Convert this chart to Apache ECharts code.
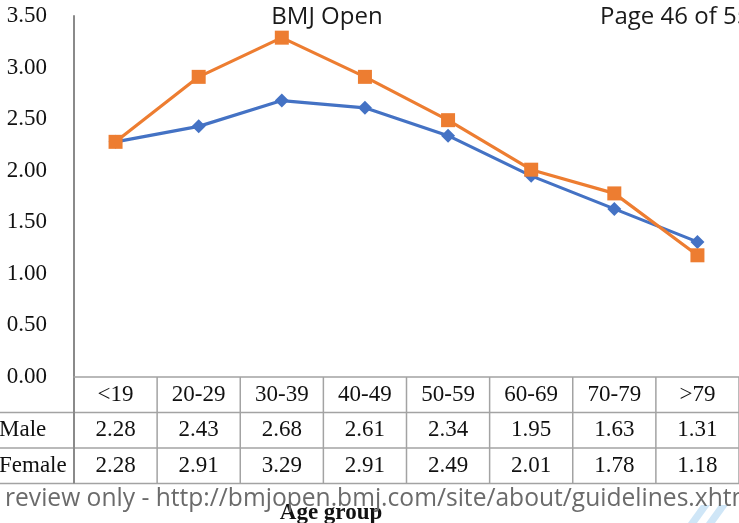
<!DOCTYPE html>
<html>
<head>
<meta charset="utf-8">
<script src="https://cdn.jsdelivr.net/npm/echarts@6/dist/echarts.min.js"></script>
<style>
  html, body { margin: 0; padding: 0; background: #fff; }
  #chart { width: 739px; height: 523px; }
</style>
</head>
<body>
<div id="chart"></div>
<script>
// Age groups and mean values per sex
var categories = ['<19', '20-29', '30-39', '40-49', '50-59', '60-69', '70-79', '>79'];
var maleValues = [2.28, 2.43, 2.68, 2.61, 2.34, 1.95, 1.63, 1.31];
var femaleValues = [2.28, 2.91, 3.29, 2.91, 2.49, 2.01, 1.78, 1.18];
var seriesNames = ['Male', 'Female'];
var yMin = 0, yMax = 3.5, yStep = 0.5;

var SERIF = '"Liberation Serif", "Times New Roman", serif';
var SANS = '"Open Sans", "Noto Sans", sans-serif';
var GRID_LINE = '#a3a3a3';
var ROW_H = 35.5;

var chart = echarts.init(document.getElementById('chart'), null, { renderer: 'canvas' });

chart.setOption({
  animation: false,
  backgroundColor: '#fff',
  grid: { left: 74, right: -1, top: 16, bottom: 146, containLabel: false },
  xAxis: {
    type: 'category',
    data: categories,
    boundaryGap: true,
    axisLine: { show: true, lineStyle: { color: GRID_LINE, width: 1.5 } },
    axisTick: { show: false },
    axisLabel: {
      interval: 0,
      margin: 0,
      verticalAlign: 'top',
      lineHeight: ROW_H,
      fontFamily: SERIF,
      fontSize: 23,
      color: '#111',
      // one table column: category, then male and female values
      formatter: function (v, i) {
        return v + '\n' + maleValues[i].toFixed(2) + '\n' + femaleValues[i].toFixed(2);
      }
    },
    splitLine: { show: false }
  },
  yAxis: {
    type: 'value',
    min: yMin,
    max: yMax,
    interval: yStep,
    axisLine: { show: true, lineStyle: { color: '#8a8a8a', width: 2 } },
    axisTick: { show: false },
    splitLine: { show: false },
    axisLabel: {
      margin: 27,
      fontFamily: SERIF,
      fontSize: 23,
      color: '#111',
      formatter: function (v) { return v.toFixed(2); }
    }
  },
  series: [
    {
      name: seriesNames[0],
      type: 'line',
      data: maleValues,
      symbol: 'diamond',
      symbolSize: 14,
      itemStyle: { color: '#4472C4' },
      lineStyle: { color: '#4472C4', width: 3.2 },
      z: 2
    },
    {
      name: seriesNames[1],
      type: 'line',
      data: femaleValues,
      symbol: 'rect',
      symbolSize: 14,
      itemStyle: { color: '#ED7D31' },
      lineStyle: { color: '#ED7D31', width: 3.2 },
      z: 3
    }
  ]
});

// Data table rules and row headers, placed from the axis scale
function buildTable() {
  var n = categories.length;
  var yAxisBottom = chart.convertToPixel({ yAxisIndex: 0 }, yMin);
  var x0 = chart.convertToPixel({ xAxisIndex: 0 }, categories[0]);
  var x1 = chart.convertToPixel({ xAxisIndex: 0 }, categories[1]);
  var bandW = x1 - x0;
  var left = x0 - bandW / 2;
  var right = left + bandW * n;
  var rows = [yAxisBottom, yAxisBottom + ROW_H, yAxisBottom + ROW_H * 2, yAxisBottom + ROW_H * 3];
  var els = [];
  var lineStyle = { stroke: GRID_LINE, lineWidth: 1.5 };

  // horizontal rules under the category row and each data row
  for (var r = 1; r < rows.length; r++) {
    els.push({ type: 'line', silent: true, shape: { x1: -5, y1: rows[r], x2: right + 5, y2: rows[r] }, style: lineStyle });
  }
  // column separators
  for (var c = 0; c <= n; c++) {
    var x = left + bandW * c;
    els.push({ type: 'line', silent: true, shape: { x1: x, y1: rows[0], x2: x, y2: rows[3] }, style: c === 0 ? { stroke: '#8a8a8a', lineWidth: 2 } : lineStyle });
  }
  // row headers
  for (var s = 0; s < seriesNames.length; s++) {
    els.push({
      type: 'text', silent: true,
      style: {
        x: -1, y: (rows[s + 1] + rows[s + 2]) / 2,
        text: seriesNames[s],
        font: '23px ' + SERIF,
        fill: '#111',
        textAlign: 'left', textVerticalAlign: 'middle'
      }
    });
  }

  // page header and footer
  els.push({
    type: 'text', silent: true,
    style: { x: 327, y: 17, text: 'BMJ Open', font: '24px ' + SANS, fill: '#1a1a1a', textAlign: 'center', textVerticalAlign: 'middle' }
  });
  els.push({
    type: 'text', silent: true,
    style: { x: 600, y: 17, text: 'Page 46 of 55', font: '24px ' + SANS, fill: '#1a1a1a', textAlign: 'left', textVerticalAlign: 'middle' }
  });
  els.push({
    type: 'polygon', silent: true,
    shape: { points: [[688, 523], [697, 523], [710, 505], [701, 505]] },
    style: { fill: '#cfe6f7' }
  });
  els.push({
    type: 'polygon', silent: true,
    shape: { points: [[706, 523], [715, 523], [728, 505], [719, 505]] },
    style: { fill: '#cfe6f7' }
  });
  els.push({
    type: 'text', silent: true,
    style: { x: 331, y: 513, text: 'Age group', font: 'bold 23px ' + SERIF, fill: '#111', textAlign: 'center', textVerticalAlign: 'middle' }
  });
  els.push({
    type: 'text', silent: true,
    style: { x: 5, y: 499, text: 'review only - http://bmjopen.bmj.com/site/about/guidelines.xhtml', font: '24.6px ' + SANS, fill: '#6b6b6b', textAlign: 'left', textVerticalAlign: 'middle' }
  });

  chart.setOption({ graphic: { elements: els } });
}
buildTable();
</script>
</body>
</html>
